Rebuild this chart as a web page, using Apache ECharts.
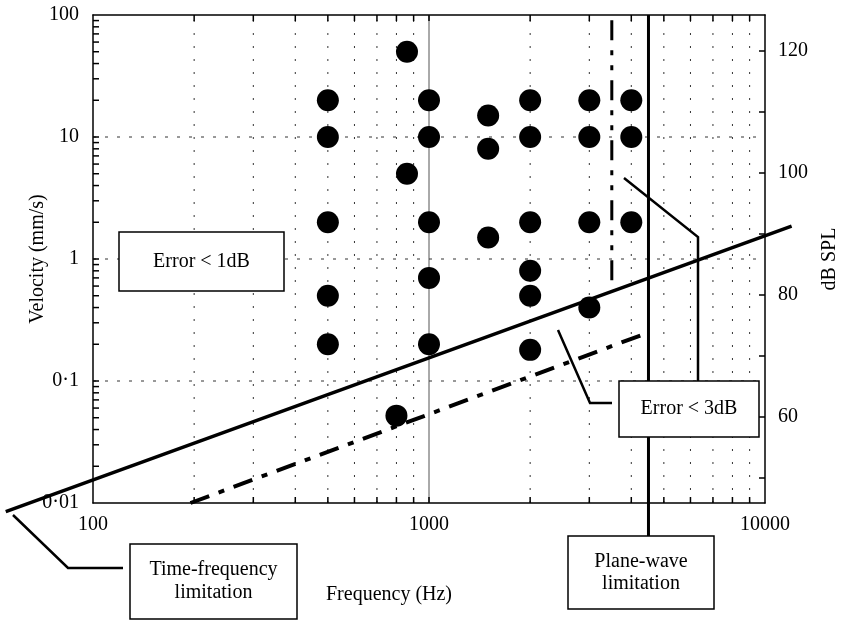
<!DOCTYPE html>
<html>
<head>
<meta charset="utf-8">
<script src="https://cdn.jsdelivr.net/npm/echarts@6/dist/echarts.min.js"></script>
<style>
html, body { margin: 0; padding: 0; background: #fff; }
#chart { width: 843px; height: 620px; }
</style>
</head>
<body>
<div id="chart"></div>
<script>
// measured points: one frequency per column, velocities measured at it
const pointFreqs = [500, 860, 1000, 1500, 2000, 3000, 4000];
const pointVels = [
  [20, 10, 2, 0.5, 0.2],
  [50, 5],
  [20, 10, 2, 0.7, 0.2],
  [15, 8, 1.5],
  [20, 10, 2, 0.8, 0.5, 0.18],
  [20, 10, 2, 0.4],
  [20, 10, 2]
];
const lowPoint = [800, 0.052];

// limit lines, end points
const err1dBFreq = [55, 12000];
const err1dBVel = [0.0085, 1.86];
const err3dBFreq = [195, 4500];
const err3dBVel = [0.01, 0.25];
const dashedFreq = [3500, 3500];
const dashedVel = [0.67, 100];
const planeFreq = [4500, 4500];
const planeVel = [0.0053, 100];

// axes
const freqDecades = [100, 1000];
const velDecades = [0.01, 0.1, 1, 10];
const velGridLines = [0.1, 1, 10];
const splTicks = [50, 60, 70, 80, 90, 100, 110, 120];
const splLabels = [60, 80, 100, 120];
const splOffset = 85.8; // dB SPL = 20 log10(v) + offset

const FONT = '"Liberation Serif", "DejaVu Serif", serif';

function minorOf(decades) {
  let out = [];
  decades.forEach(d => {
    for (let m = 2; m <= 9; m++) out.push(Number((m * d).toPrecision(3)));
  });
  return out;
}
const freqMinor = minorOf(freqDecades);
const freqTicks = freqMinor.concat([1000]);
const velTicks = minorOf(velDecades).concat([0.1, 1, 10]);

let points = [];
pointFreqs.forEach((f, i) => {
  pointVels[i].forEach(v => points.push([f, v]));
});
points.push(lowPoint);

// vertical grid line through the whole plot
function vGrid(style) {
  return function (params, api) {
    let a = api.coord([api.value(0), 0.01]);
    let b = api.coord([api.value(0), 100]);
    return { type: 'line', shape: { x1: a[0], y1: a[1], x2: b[0], y2: b[1] }, style: style };
  };
}

function hGrid(params, api) {
  let a = api.coord([100, api.value(1)]);
  let b = api.coord([10000, api.value(1)]);
  return {
    type: 'line',
    shape: { x1: a[0], y1: a[1], x2: b[0], y2: b[1] },
    style: { stroke: '#333', lineWidth: 1, lineDash: [3, 9] }
  };
}

// inward ticks on bottom and top
function xTick(params, api) {
  let a = api.coord([api.value(0), 0.01]);
  let b = api.coord([api.value(0), 100]);
  return {
    type: 'group',
    children: [
      { type: 'line', shape: { x1: a[0], y1: a[1], x2: a[0], y2: a[1] - 6 }, style: { stroke: '#000', lineWidth: 1.5 } },
      { type: 'line', shape: { x1: b[0], y1: b[1], x2: b[0], y2: b[1] + 6 }, style: { stroke: '#000', lineWidth: 1.5 } }
    ]
  };
}

function yTick(params, api) {
  let a = api.coord([100, api.value(1)]);
  return {
    type: 'line',
    shape: { x1: a[0], y1: a[1], x2: a[0] + 6, y2: a[1] },
    style: { stroke: '#000', lineWidth: 1.5 }
  };
}

// straight limit line between two data points, not clipped to the plot
function limitLine(freqs, vels, width, dash) {
  return {
    type: 'custom',
    clip: false,
    silent: true,
    z: 4,
    encode: { x: [0, 2], y: [1, 3] },
    data: [[freqs[0], vels[0], freqs[1], vels[1]]],
    renderItem: function (params, api) {
      let a = api.coord([api.value(0), api.value(1)]);
      let b = api.coord([api.value(2), api.value(3)]);
      return {
        type: 'line',
        shape: { x1: a[0], y1: a[1], x2: b[0], y2: b[1] },
        style: { stroke: '#000', lineWidth: width, lineDash: dash || null }
      };
    }
  };
}

function box(x, y, w, h, text, lh) {
  return {
    type: 'group',
    z: 20,
    children: [
      { type: 'rect', z: 20, shape: { x: x, y: y, width: w, height: h }, style: { fill: '#fff', stroke: '#000', lineWidth: 1.5 } },
      { type: 'text', z: 21, x: x + w / 2, y: y + h / 2,
        style: { text: text, fill: '#000', font: '20px ' + FONT, align: 'center', verticalAlign: 'middle', lineHeight: lh } }
    ]
  };
}

function leader(pts, w) {
  return { type: 'polyline', z: 15, shape: { points: pts }, style: { stroke: '#000', lineWidth: w || 2, fill: null } };
}

const axisLine = { show: true, lineStyle: { color: '#000', width: 1.5 } };

let option = {
  animation: false,
  backgroundColor: '#fff',
  textStyle: { fontFamily: FONT, color: '#000' },
  grid: { left: 93, right: 78, top: 15, bottom: 117, outerBoundsMode: 'none' },
  xAxis: [
    {
      type: 'log', logBase: 10, min: 100, max: 10000, position: 'bottom',
      axisLine: axisLine, axisTick: { show: false }, splitLine: { show: false },
      axisLabel: { fontSize: 20, color: '#000', fontFamily: FONT, margin: 12, formatter: v => String(v) }
    },
    {
      type: 'log', logBase: 10, min: 100, max: 10000, position: 'top',
      axisLine: axisLine, axisTick: { show: false }, axisLabel: { show: false }, splitLine: { show: false }
    }
  ],
  yAxis: [
    {
      type: 'log', logBase: 10, min: 0.01, max: 100, position: 'left',
      name: 'Velocity (mm/s)', nameLocation: 'middle', nameGap: 45, nameMoveOverlap: false,
      nameTextStyle: { fontSize: 20, fontFamily: FONT, color: '#000' },
      axisLine: axisLine, axisTick: { show: false }, splitLine: { show: false },
      axisLabel: {
        fontSize: 20, color: '#000', fontFamily: FONT, margin: 14,
        formatter: v => String(v).replace('.', '\u00b7')
      }
    },
    {
      type: 'value', min: 20 * Math.log10(0.01) + splOffset, max: 20 * Math.log10(100) + splOffset,
      position: 'right',
      name: 'dB SPL', nameLocation: 'middle', nameGap: 55, nameRotate: 90, nameMoveOverlap: false,
      nameTextStyle: { fontSize: 20, fontFamily: FONT, color: '#000' },
      axisLine: axisLine, splitLine: { show: false },
      axisTick: { show: true, inside: true, length: 6, customValues: splTicks, lineStyle: { color: '#000', width: 1.5 } },
      axisLabel: { customValues: splLabels, fontSize: 20, color: '#000', fontFamily: FONT, margin: 13 }
    }
  ],
  series: [
    {
      type: 'custom', renderItem: vGrid({ stroke: '#333', lineWidth: 1, lineDash: [2, 11] }),
      data: freqMinor.map(f => [f, 1]), silent: true, z: 1
    },
    {
      type: 'custom', renderItem: vGrid({ stroke: '#555', lineWidth: 1 }),
      data: [[1000, 1]], silent: true, z: 1
    },
    {
      type: 'custom', renderItem: hGrid, data: velGridLines.map(v => [1000, v]), silent: true, z: 1
    },
    { type: 'custom', renderItem: xTick, data: freqTicks.map(f => [f, 1]), silent: true, z: 1 },
    { type: 'custom', renderItem: yTick, data: velTicks.map(v => [1000, v]), silent: true, z: 1 },
    {
      type: 'scatter', data: points, symbol: 'circle', symbolSize: 22,
      itemStyle: { color: '#000', opacity: 1 }, z: 3
    },
    limitLine(err1dBFreq, err1dBVel, 3.5),
    limitLine(err3dBFreq, err3dBVel, 4, [20, 10, 6, 10]),
    limitLine(dashedFreq, dashedVel, 3, [20, 10, 5, 10, 5, 10]),
    limitLine(planeFreq, planeVel, 3)
  ],
  graphic: [
    leader([[13, 515], [68, 568], [123, 568]], 2.5),
    leader([[558, 330], [590, 403], [612, 403]], 2.5),
    leader([[624, 178], [698, 237], [698, 382]], 2.5),
    box(119, 232, 165, 59, 'Error < 1dB', 22),
    box(619, 381, 140, 56, 'Error < 3dB', 22),
    box(130, 544, 167, 75, 'Time-frequency\nlimitation', 23),
    box(568, 536, 146, 73, 'Plane-wave\nlimitation', 22),
    {
      type: 'text', x: 389, y: 595, z: 5,
      style: { text: 'Frequency (Hz)', fill: '#000', font: '20px ' + FONT, align: 'center', verticalAlign: 'middle' }
    }
  ]
};

let chart = echarts.init(document.getElementById('chart'));
chart.setOption(option);
</script>
</body>
</html>
